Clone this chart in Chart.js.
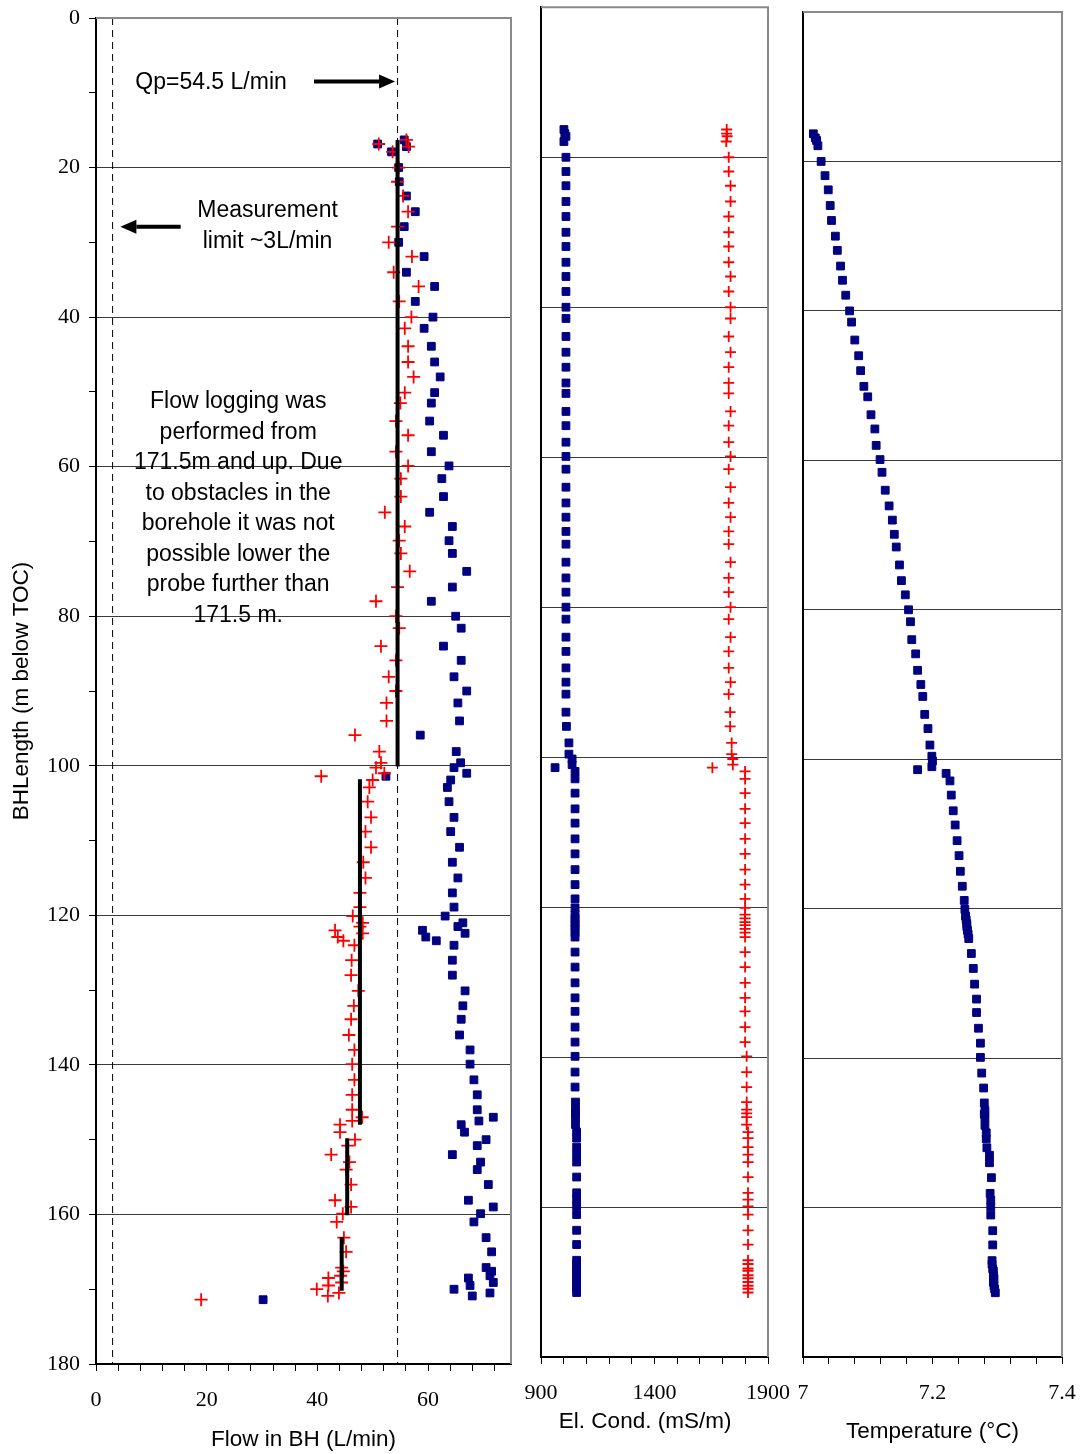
<!DOCTYPE html>
<html>
<head>
<meta charset="utf-8">
<title>Flow logging</title>
<script src="https://cdn.jsdelivr.net/npm/chart.js@4.4.1/dist/chart.umd.min.js"></script>
<style>
    html, body { margin: 0; background: #fff; overflow: hidden; }
    #wrap { position: relative; width: 1084px; height: 1454px; overflow: hidden; }
    #wrap canvas { position: absolute; }
</style>
</head>
<body>
<div id="wrap">
    <canvas id="flowChart" width="520" height="1462" style="left:0; top:-8px"></canvas>
    <canvas id="ecChart" width="305" height="1454" style="left:505px; top:0"></canvas>
    <canvas id="tempChart" width="319" height="1454" style="left:777px; top:0"></canvas>
</div>
<script>
// Depth of each logged point (m below TOC)
const depth = [
    16.3, 16.85, 17.2, 17.9, 20.0, 21.9, 23.8, 25.9, 27.9, 30.0,
    31.9, 34.0, 35.9, 37.9, 40.0, 41.5, 43.9, 46.0, 48.0, 50.1,
    51.5, 53.9, 55.8, 58.0, 59.9, 61.6, 64.0, 66.1, 68.0, 69.9,
    71.6, 74.0, 76.1, 78.0, 80.0, 81.6, 84.0, 85.9, 88.1, 90.0,
    91.6, 94.0, 95.9, 98.1, 99.6, 100.25, 101.0, 101.4, 101.9, 102.9,
    104.8, 106.9, 108.8, 110.9, 112.9, 115.0, 117.0, 118.9, 120.1, 121.0,
    121.5, 122.0, 122.4, 122.9, 123.4, 124.0, 126.0, 128.0, 130.1, 132.1,
    133.9, 136.0, 138.0, 139.9, 142.0, 144.0, 146.0, 147.0, 147.5, 148.0,
    149.0, 150.0, 150.8, 152.0, 153.0, 154.0, 156.0, 158.1, 159.0, 159.9,
    161.0, 163.1, 165.0, 167.1, 167.6, 168.2, 168.5, 169.1, 169.5, 170.0,
    170.5, 170.9, 171.4
];

// Flow in BH (L/min), red crosses
const flowCross = [
    56.1, 51.1, 56.5, 53.6, 54.7, 54.5, 55.5, 56.4, 54.5, 52.9,
    57.1, 53.8, 58.3, 54.8, 57.0, 55.8, 56.4, 56.4, 57.4, 55.8,
    55.0, 54.2, 56.4, 54.2, 56.4, 55.1, 55.1, 52.2, 55.8, 54.8,
    55.1, 56.7, 54.5, 50.6, 54.2, 54.8, 51.5, 54.2, 52.9, 54.2,
    52.5, 52.5, 46.8, 51.2, 51.5, 50.6, 52.1, 40.7, 50.0, 49.4,
    49.1, 49.7, 48.7, 49.7, 48.3, 48.7, 47.7, 47.7, 46.4, 48.2,
    47.7, 43.2, 48.2, 43.7, 44.7, 46.7, 46.2, 46.1, 47.4, 46.6,
    46.1, 45.7, 46.7, 46.3, 46.7, 46.3, 46.3, 48.1, 46.3, 44.1,
    44.1, 46.8, 45.5, 42.5, 45.8, 45.2, 46.1, 43.2, 46.1, 44.6,
    43.5, 44.8, 45.2, 44.4, 44.7, 44.2, 42.0, 44.4, 42.0, 39.9,
    43.9, 41.9, 19.0
];

// Flow in BH (L/min), blue squares
const flowSquare = [
    55.7, 50.9, 56.1, 53.4, 54.7, 54.8, 56.1, 57.7, 55.7, 54.7,
    59.3, 56.1, 61.2, 57.7, 60.9, 59.3, 60.6, 61.2, 62.2, 61.2,
    60.6, 60.3, 62.8, 60.6, 63.8, 62.5, 62.8, 60.3, 64.4, 63.8,
    64.4, 67.0, 64.4, 60.6, 65.0, 66.0, 62.8, 66.0, 64.7, 67.0,
    65.4, 65.7, 58.6, 65.1, 65.9, 64.7, 67.0, 52.4, 64.1, 63.5,
    63.8, 64.7, 64.1, 65.7, 64.4, 65.4, 64.4, 64.7, 63.1, 66.3,
    65.4, 59.0, 66.7, 59.6, 61.5, 64.7, 64.4, 64.4, 66.7, 66.3,
    66.0, 65.7, 67.6, 67.6, 68.3, 68.9, 68.9, 71.8, 69.2, 66.0,
    66.6, 70.5, 68.9, 64.4, 69.5, 68.9, 70.9, 67.3, 71.8, 69.5,
    68.3, 70.5, 71.5, 70.5, 71.5, 71.2, 67.3, 71.8, 67.6, 64.7,
    71.2, 68.0, 30.2
];

// El. Cond. (mS/m), red crosses
const ecCross = [
    1718, 1718, 1720, 1716, 1727, 1727, 1735, 1735, 1727, 1727,
    1727, 1727, 1735, 1727, 1735, 1735, 1727, 1735, 1727, 1727,
    1727, 1735, 1727, 1727, 1735, 1727, 1735, 1727, 1735, 1727,
    1727, 1735, 1727, 1727, 1735, 1727, 1735, 1727, 1727, 1735,
    1727, 1733, 1733, 1740, 1740, 1745, 1745, 1655, 1799, 1799,
    1799, 1799, 1799, 1799, 1799, 1799, 1799, 1799, 1799, 1799,
    1799, 1799, 1799, 1799, 1799, 1799, 1799, 1799, 1799, 1799,
    1799, 1799, 1799, 1806, 1806, 1806, 1806, 1806, 1806, 1806,
    1806, 1812, 1812, 1812, 1812, 1812, 1812, 1812, 1812, 1812,
    1812, 1812, 1812, 1812, 1812, 1812, 1812, 1812, 1812, 1812,
    1812, 1812, 1812
];

// El. Cond. (mS/m), blue squares
const ecSquare = [
    1001, 1005, 1010, 1001, 1010, 1010, 1010, 1010, 1010, 1010,
    1010, 1010, 1010, 1010, 1010, 1010, 1010, 1010, 1010, 1010,
    1010, 1010, 1010, 1010, 1010, 1010, 1010, 1010, 1010, 1010,
    1010, 1010, 1010, 1010, 1010, 1010, 1010, 1010, 1010, 1010,
    1010, 1010, 1012, 1023, 1023, 1037, 1037, 962, 1050, 1050,
    1050, 1050, 1050, 1050, 1050, 1050, 1050, 1050, 1050, 1050,
    1050, 1050, 1050, 1050, 1050, 1050, 1050, 1050, 1050, 1050,
    1050, 1050, 1050, 1050, 1050, 1050, 1052, 1052, 1052, 1052,
    1052, 1057, 1057, 1057, 1057, 1057, 1057, 1057, 1057, 1057,
    1057, 1057, 1057, 1057, 1057, 1057, 1057, 1057, 1057, 1057,
    1057, 1057, 1057
];

// Temperature (°C)
const temperature = [
    7.016, 7.019, 7.021, 7.023, 7.028, 7.034, 7.039, 7.042, 7.044, 7.050,
    7.053, 7.058, 7.061, 7.066, 7.072, 7.075, 7.080, 7.086, 7.089, 7.094,
    7.100, 7.105, 7.111, 7.113, 7.119, 7.122, 7.127, 7.133, 7.138, 7.141,
    7.144, 7.149, 7.152, 7.158, 7.163, 7.166, 7.168, 7.174, 7.177, 7.182,
    7.185, 7.188, 7.193, 7.196, 7.199, 7.200, 7.199, 7.177, 7.221, 7.227,
    7.229, 7.232, 7.235, 7.238, 7.241, 7.243, 7.246, 7.249, 7.250, 7.251,
    7.252, 7.253, 7.253, 7.254, 7.255, 7.256, 7.260, 7.263, 7.265, 7.268,
    7.268, 7.271, 7.274, 7.274, 7.276, 7.279, 7.280, 7.281, 7.280, 7.281,
    7.281, 7.283, 7.283, 7.284, 7.288, 7.288, 7.291, 7.289, 7.290, 7.290,
    7.290, 7.293, 7.293, 7.292, 7.292, 7.293, 7.294, 7.294, 7.295, 7.294,
    7.295, 7.296, 7.297
];

// Average flow per section (heavy black bars)
const sectionFlow = [54.5, 47.7, 45.4, 44.4];
const sectionTop = [16.3, 101.8, 149.8, 163.0];
const sectionBottom = [100.1, 148.0, 160.1, 170.2];

const pumpedFlow = 54.5;  // Qp
const flowLimit = 3;      // measurement limit

// Tick labels
const depthLabels = [0, 20, 40, 60, 80, 100, 120, 140, 160, 180];
const flowLabels = [0, 20, 40, 60];
const ecLabels = [900, 1400, 1900];
const tempLabels = [7, 7.2, 7.4];

const noteLines = [
    'Flow logging was',
    'performed from',
    '171.5m and up. Due',
    'to obstacles in the',
    'borehole it was not',
    'possible lower the',
    'probe further than',
    '171.5 m.'
];

const serif = { family: 'Liberation Serif', size: 22, lineHeight: 1.2 };
const sans = { family: 'Liberation Sans', size: 22.5, lineHeight: 1.2 };

function stepTicks(min, max, step) {
    return function(scale) {
        const ticks = [];
        for (let v = min; v <= max + step / 1000; v += step) {
            ticks.push({ value: +v.toFixed(4) });
        }
        scale.ticks = ticks;
    };
}

function labelsFrom(list) {
    return v => list.includes(+(+v).toFixed(4)) ? String(+(+v).toFixed(4)) : '';
}

function gridColor(c) {
    const v = c.tick && c.tick.value;
    return (depthLabels.includes(v) && v > 0 && v < 180) ? '#3a3a3a' : 'rgba(0,0,0,0)';
}

function points(values) {
    return depth.map((d, i) => ({ x: values[i], y: d }));
}

// gray top and right edge of the plot box
const frame = {
    id: 'frame',
    afterDraw(chart) {
        const { ctx, chartArea: a } = chart;
        ctx.save();
        ctx.strokeStyle = '#8a8a8a';
        ctx.lineWidth = 2;
        ctx.beginPath();
        ctx.moveTo(a.left, a.top);
        ctx.lineTo(a.right, a.top);
        ctx.lineTo(a.right, a.bottom);
        ctx.stroke();
        ctx.restore();
    }
};

function arrow(ctx, x0, x1, y) {
    const dir = Math.sign(x1 - x0);
    const head = 16;
    ctx.lineWidth = 4;
    ctx.beginPath();
    ctx.moveTo(x0, y);
    ctx.lineTo(x1 - dir * head, y);
    ctx.stroke();
    ctx.beginPath();
    ctx.moveTo(x1, y);
    ctx.lineTo(x1 - dir * head, y - 7);
    ctx.lineTo(x1 - dir * head, y + 7);
    ctx.closePath();
    ctx.fill();
}

// text notes and arrows on the flow panel
const notes = {
    id: 'notes',
    afterDatasetsDraw(chart) {
        const { ctx, scales: { x, y } } = chart;
        const ty = v => y.getPixelForValue(v) + 2;
        ctx.save();
        ctx.fillStyle = '#000';
        ctx.strokeStyle = '#000';
        ctx.font = '23px "Liberation Sans"';
        ctx.textBaseline = 'middle';

        ctx.textAlign = 'left';
        ctx.fillText('Qp=' + pumpedFlow + ' L/min', x.getPixelForValue(7.1), ty(8.4));
        arrow(ctx, x.getPixelForValue(39.4), x.getPixelForValue(pumpedFlow - 0.45), y.getPixelForValue(8.5));

        ctx.textAlign = 'center';
        ctx.fillText('Measurement', x.getPixelForValue(31), ty(25.5));
        ctx.fillText('limit ~3L/min', x.getPixelForValue(31), ty(29.7));
        arrow(ctx, x.getPixelForValue(15.3), x.getPixelForValue(flowLimit + 1.4), y.getPixelForValue(27.9));

        noteLines.forEach((t, i) => {
            ctx.fillText(t, x.getPixelForValue(25.7), ty(51.1 + i * 4.07));
        });
        ctx.restore();
    }
};

const baseOptions = {
    responsive: false,
    animation: false,
    events: [],
    plugins: { legend: { display: false }, tooltip: { enabled: false } }
};

function depthAxis(extra) {
    return Object.assign({
        type: 'linear',
        reverse: true,
        min: 0,
        max: 180,
        border: { color: '#000', width: 2 }
    }, extra);
}

function valueAxis(min, max, step, labels, title, titlePad, height) {
    return {
        type: 'linear',
        position: 'bottom',
        min: min,
        max: max,
        afterBuildTicks: stepTicks(min, max, step),
        afterFit: s => { s.height = height; },
        ticks: { callback: labelsFrom(labels), autoSkip: false, maxRotation: 0, padding: 16, color: '#000', font: serif },
        grid: { drawOnChartArea: false, tickLength: 7, tickColor: '#000' },
        border: { color: '#000', width: 2 },
        title: { display: true, text: title, color: '#000', font: sans, padding: { top: 0, bottom: titlePad } }
    };
}

const crossStyle = { pointStyle: 'cross', borderColor: '#ff0000', backgroundColor: '#ff0000', borderWidth: 1.8 };
const squareStyle = { pointStyle: 'rect', pointRadius: 5.5, borderColor: '#000080', backgroundColor: '#000080', borderWidth: 1 };

// 1. Flow in borehole
const sectionSets = sectionFlow.map((f, i) => ({
    type: 'line',
    data: [{ x: f, y: sectionTop[i] }, { x: f, y: sectionBottom[i] }],
    showLine: true,
    borderColor: '#000',
    borderWidth: 4,
    pointRadius: 0
}));

const dashedSets = [flowLimit, pumpedFlow].map(v => ({
    type: 'line',
    data: [{ x: v, y: 0 }, { x: v, y: 180 }],
    showLine: true,
    borderColor: '#000',
    borderWidth: 1,
    borderDash: [7, 5],
    pointRadius: 0
}));

new Chart(document.getElementById('flowChart'), {
    type: 'scatter',
    data: {
        datasets: [
            ...sectionSets,
            Object.assign({ data: points(flowCross), pointRadius: 6.5 }, crossStyle),
            Object.assign({ data: points(flowSquare) }, squareStyle),
            ...dashedSets
        ]
    },
    options: Object.assign({}, baseOptions, {
        layout: { padding: { left: 0, right: 9, top: 26, bottom: 0 } },
        scales: {
            x: valueAxis(0, 75, 4, flowLabels, 'Flow in BH (L/min)', 0.5, 90),
            y: depthAxis({
                afterBuildTicks: stepTicks(0, 180, 10),
                afterFit: s => { s.width = 96; },
                ticks: { callback: labelsFrom(depthLabels), autoSkip: false, padding: 9, color: '#000', font: serif },
                grid: { color: gridColor, tickColor: '#000', tickLength: 7 },
                title: { display: true, text: 'BHLength (m below TOC)', color: '#000', font: sans, padding: { top: 8.5, bottom: 0 } }
            })
        }
    }),
    plugins: [frame, notes]
});

// 2. Electric conductivity (title padded on the right so it sits a little left of centre)
new Chart(document.getElementById('ecChart'), {
    type: 'scatter',
    data: {
        datasets: [
            Object.assign({ data: points(ecCross), pointRadius: 5.5 }, crossStyle),
            Object.assign({ data: points(ecSquare) }, squareStyle)
        ]
    },
    options: Object.assign({}, baseOptions, {
        layout: { padding: { left: 36, right: 42, top: 5, bottom: 0 } },
        scales: {
            x: valueAxis(900, 1900, 100, ecLabels, 'El. Cond. (mS/m)\u00a0\u00a0\u00a0', 18.5, 97),
            y: depthAxis({
                afterBuildTicks: stepTicks(0, 180, 20),
                afterFit: s => { s.width = 0; },
                ticks: { display: false },
                grid: { color: gridColor, drawTicks: false }
            })
        }
    }),
    plugins: [frame]
});

// 3. Temperature
new Chart(document.getElementById('tempChart'), {
    type: 'scatter',
    data: {
        datasets: [
            Object.assign({ data: points(temperature) }, squareStyle)
        ]
    },
    options: Object.assign({}, baseOptions, {
        layout: { padding: { left: 26, right: 34, top: 12, bottom: 0 } },
        scales: {
            x: valueAxis(7, 7.4, 0.04, tempLabels, 'Temperature (°C)', 8.5, 97),
            y: depthAxis({
                afterBuildTicks: stepTicks(0, 180, 20),
                afterFit: s => { s.width = 0; },
                ticks: { display: false },
                grid: { color: gridColor, drawTicks: false }
            })
        }
    }),
    plugins: [frame]
});
</script>
</body>
</html>
